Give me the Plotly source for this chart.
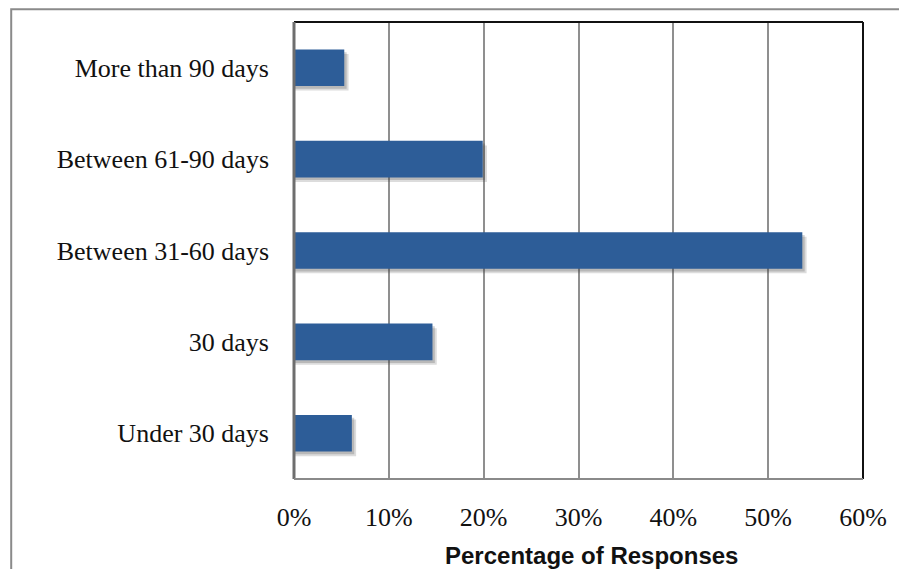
import plotly.graph_objects as go

# Survey results: time taken, share of responses (%)
categories = ["Under 30 days", "30 days", "Between 31-60 days",
              "Between 61-90 days", "More than 90 days"]
shares = [6.1, 14.6, 53.6, 19.9, 5.3]
tick_values = [0, 10, 20, 30, 40, 50, 60]
tick_labels = ["0%", "10%", "20%", "30%", "40%", "50%", "60%"]

BAR_COLOR = "#2D5D98"
BAR_WIDTH = 0.40
SERIF = "Liberation Serif, Times New Roman, serif"

fig = go.Figure()

# soft drop shadow under each bar (two translucent layers)
for shift, extra, alpha in [(0.05, 0.45, 0.18), (0.03, 0.25, 0.22)]:
    fig.add_trace(go.Bar(
        y=categories, x=[v + extra for v in shares], orientation="h",
        width=BAR_WIDTH, offset=-BAR_WIDTH / 2 - shift,
        marker=dict(color=f"rgba(60,60,60,{alpha})", line=dict(width=0)),
        hoverinfo="skip", showlegend=False,
    ))

fig.add_trace(go.Bar(
    y=categories, x=shares, orientation="h",
    width=BAR_WIDTH, offset=-BAR_WIDTH / 2,
    marker=dict(color=BAR_COLOR, line=dict(width=0)),
    showlegend=False,
))

frame_shapes = [
    # outer chart border
    dict(type="rect", xref="paper", yref="paper", x0=-0.497, x1=1.3, y0=-0.5, y1=1.028,
         line=dict(color="#8a8a8a", width=2), fillcolor="rgba(0,0,0,0)", layer="below"),
    # plot frame: top/right black, left/bottom gray
    dict(type="line", xref="paper", yref="paper", x0=0, x1=1, y0=1, y1=1,
         line=dict(color="#111111", width=2)),
    dict(type="line", xref="paper", yref="paper", x0=1, x1=1, y0=0, y1=1,
         line=dict(color="#111111", width=2)),
    dict(type="line", xref="paper", yref="paper", x0=0, x1=0, y0=0, y1=1,
         line=dict(color="#6e6e6e", width=3)),
    dict(type="line", xref="paper", yref="paper", x0=0, x1=1, y0=0, y1=0,
         line=dict(color="#8a8a8a", width=2)),
]

fig.update_layout(
    width=899, height=569,
    margin=dict(l=294, r=31, t=22, b=90),
    paper_bgcolor="white", plot_bgcolor="white",
    barmode="overlay",
    shapes=frame_shapes,
    xaxis=dict(
        range=[0, 60], tickvals=tick_values, ticktext=tick_labels,
        showgrid=True, gridcolor="#8f8f8f", gridwidth=2,
        zeroline=False, showline=False, ticks="",
        tickfont=dict(family=SERIF, size=26, color="#111111"),
        ticklabelstandoff=20, fixedrange=True,
    ),
    yaxis=dict(
        categoryorder="array", categoryarray=categories,
        range=[-0.5, 4.5], showgrid=False, zeroline=False, showline=False,
        ticks="", tickfont=dict(family=SERIF, size=26, color="#111111"),
        ticklabelstandoff=24, fixedrange=True,
    ),
    annotations=[dict(
        text="<b>Percentage of Responses</b>", xref="paper", yref="paper",
        x=0.523, y=-0.168, xanchor="center", yanchor="middle", showarrow=False,
        font=dict(family="Liberation Sans Narrow, Arial Narrow, Liberation Sans, sans-serif",
                  size=24, color="#111111"),
    )],
)

fig.write_html("out.html")
